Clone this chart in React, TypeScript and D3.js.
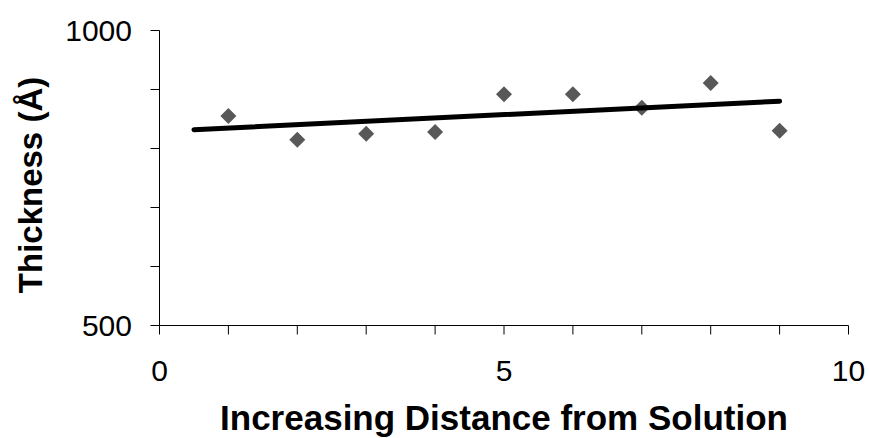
import React from "react";
import * as d3 from "d3";

// Sample positions and measured film thickness (Å)
const positions = [1, 2, 3, 4, 5, 6, 7, 8, 9];
const thickness = [855, 815, 825, 828, 892, 892, 869, 911, 830];

// Axis ticks
const xTicks = [0, 1, 2, 3, 4, 5, 6, 7, 8, 9, 10];
const xTickLabels = [0, 5, 10];
const yTicks = [500, 600, 700, 800, 900, 1000];
const yTickLabels = [500, 1000];

// Linear trend extent (with backward forecast to 0.5)
const trendRange = [0.5, 9];

const xTitle = "Increasing Distance from Solution";
const yTitle = "Thickness (Å)";

const W = 869;
const H = 438;
const FONT = "'Liberation Sans', Arial, Helvetica, sans-serif";

function linearFit(xs: number[], ys: number[]) {
  const mx = d3.mean(xs) as number;
  const my = d3.mean(ys) as number;
  let sxy = 0;
  let sxx = 0;
  xs.forEach((x, i) => {
    sxy += (x - mx) * (ys[i] - my);
    sxx += (x - mx) * (x - mx);
  });
  const slope = sxy / sxx;
  return (x: number) => my + slope * (x - mx);
}

export default function App() {
  const x = d3.scaleLinear().domain([0, 10]).range([159.5, 848.5]);
  const y = d3.scaleLinear().domain([500, 1000]).range([325.5, 30.5]);

  const fit = linearFit(positions, thickness);
  const trendLine = d3
    .line<number>()
    .x((d) => x(d))
    .y((d) => y(fit(d)))(trendRange);

  const diamond = d3.symbol(d3.symbolSquare, 128)() as string;
  const tickLen = 9;

  return (
    <svg
      width={W}
      height={H}
      style={{ position: "absolute", left: 0, top: 0, background: "#fff" }}
    >
      <rect width={W} height={H} fill="#fff" />

      {/* Y axis */}
      <line x1={x(0)} x2={x(0)} y1={y(1000)} y2={y(500)} stroke="#000" strokeWidth={1} />
      {yTicks.map((t) => (
        <line key={"yt" + t} x1={x(0) - tickLen} x2={x(0)} y1={y(t)} y2={y(t)} stroke="#000" strokeWidth={1} />
      ))}
      {yTickLabels.map((t) => (
        <text
          key={"yl" + t}
          x={132}
          y={y(t)}
          dy="0.35em"
          textAnchor="end"
          fontFamily={FONT}
          fontSize={30}
          fill="#000"
        >
          {t}
        </text>
      ))}

      {/* X axis */}
      <line x1={x(0)} x2={x(10)} y1={y(500)} y2={y(500)} stroke="#000" strokeWidth={1} />
      {xTicks.map((t) => (
        <line key={"xt" + t} x1={x(t)} x2={x(t)} y1={y(500)} y2={y(500) + tickLen} stroke="#000" strokeWidth={1} />
      ))}
      {xTickLabels.map((t) => (
        <text
          key={"xl" + t}
          x={x(t)}
          y={381}
          textAnchor="middle"
          fontFamily={FONT}
          fontSize={30}
          fill="#000"
        >
          {t}
        </text>
      ))}

      {/* Axis titles */}
      <text
        x={(x(0) + x(10)) / 2}
        y={430}
        textAnchor="middle"
        fontFamily={FONT}
        fontSize={35}
        fontWeight="bold"
        fill="#000"
      >
        {xTitle}
      </text>
      <text
        transform={`translate(42,${185}) rotate(-90)`}
        textAnchor="middle"
        fontFamily={FONT}
        fontSize={33}
        fontWeight="bold"
        fill="#000"
      >
        {yTitle}
      </text>

      {/* Data points */}
      {positions.map((p, i) => (
        <path
          key={"pt" + p}
          d={diamond}
          transform={`translate(${x(p)},${y(thickness[i])}) rotate(45)`}
          fill="#585858"
        />
      ))}

      {/* Trend line */}
      <path d={trendLine as string} fill="none" stroke="#000" strokeWidth={5} strokeLinecap="round" />
    </svg>
  );
}
